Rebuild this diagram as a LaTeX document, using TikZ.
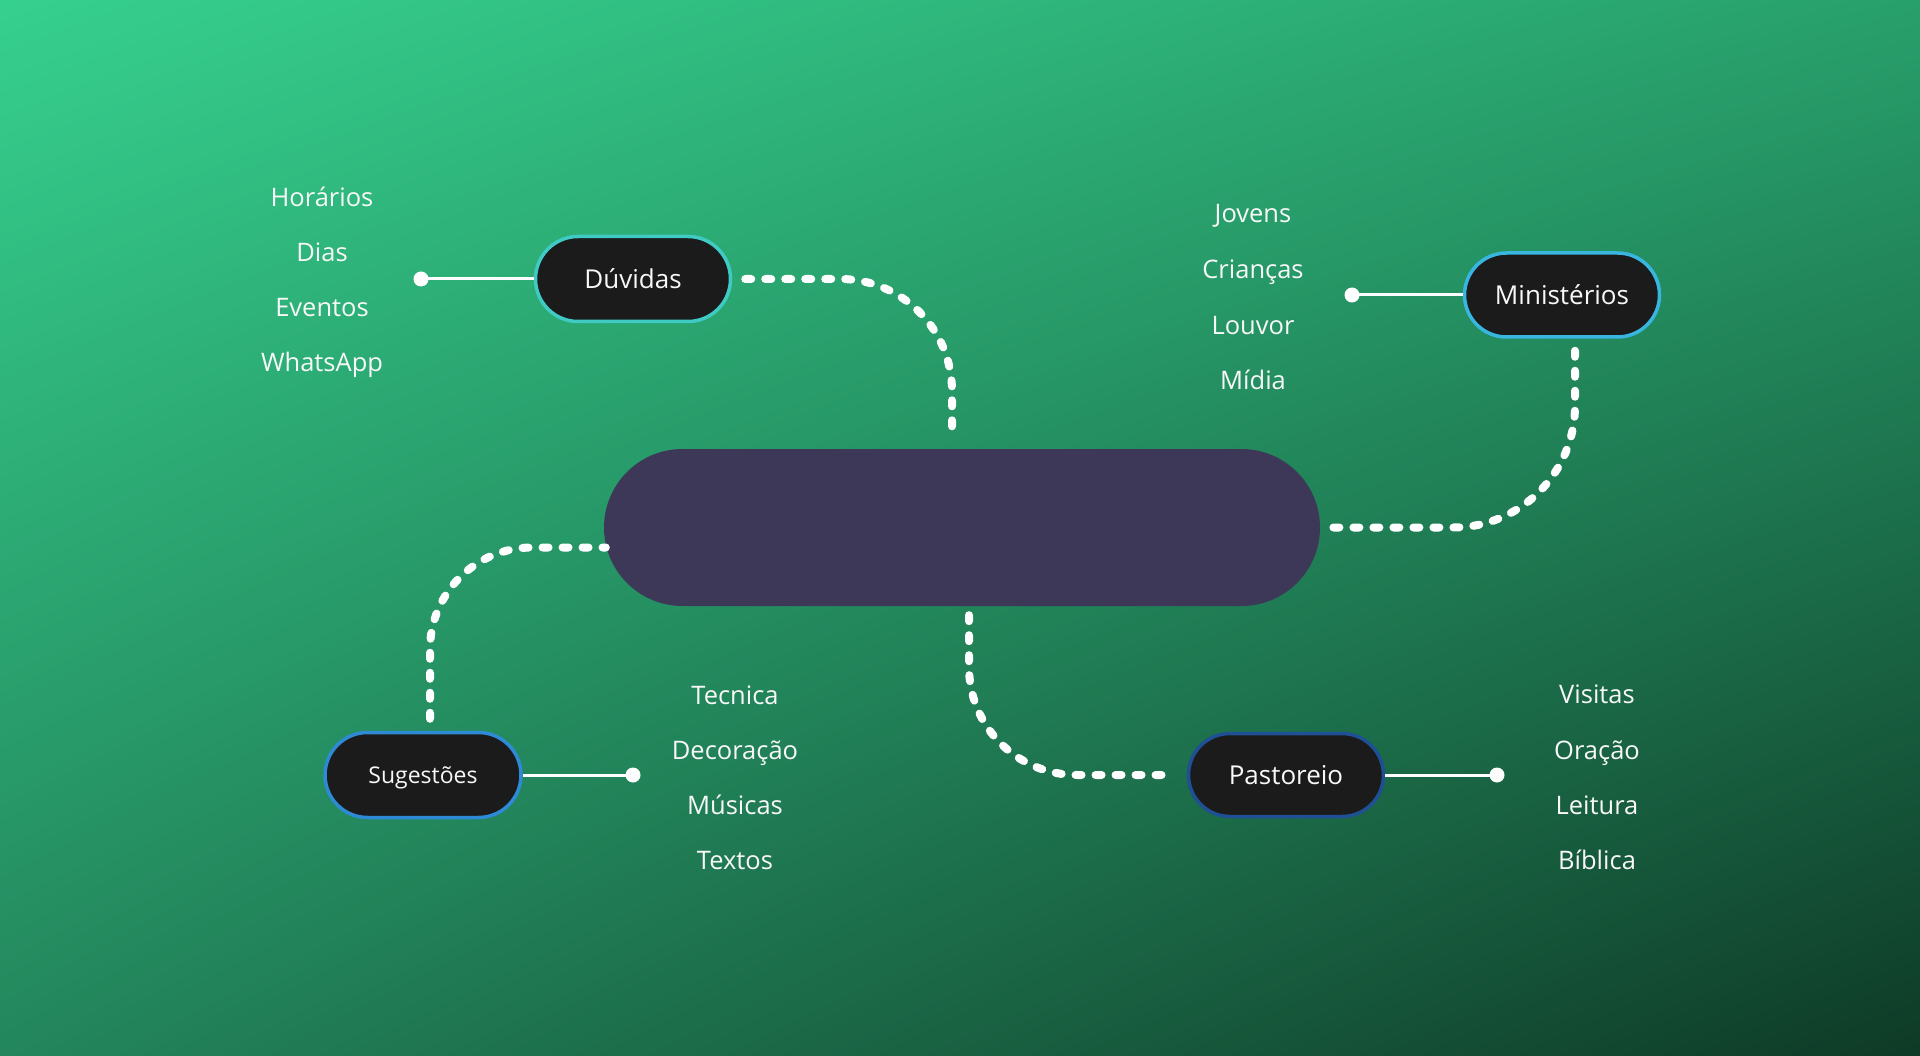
\documentclass[tikz,border=0pt]{standalone}
\usepackage{fontspec}
\setmainfont{Open Sans}
\usetikzlibrary{shapes.misc,calc,shadings}
\definecolor{bgTL}{HTML}{36D08E}
\definecolor{bgTR}{HTML}{28A06C}
\definecolor{bgBL}{HTML}{23865C}
\definecolor{bgBR}{HTML}{0E3A26}
\definecolor{pillfill}{HTML}{1B1B1B}
\definecolor{centerfill}{HTML}{3E3858}
\definecolor{bdTeal}{HTML}{3FCAC4}
\definecolor{bdSky}{HTML}{38B6E0}
\definecolor{bdBlue}{HTML}{2F8AD6}
\definecolor{bdNavy}{HTML}{1F4F94}
\definecolor{txtwhite}{HTML}{F8F8F8}
\tikzset{
  pill/.style={rounded rectangle, fill=pillfill, line width=3.5pt, minimum width=195pt, minimum height=85pt, inner sep=0pt, text height=18.6pt, text depth=0pt, text=txtwhite, font=\fontsize{26}{30}\selectfont},
  hubpill/.style={rounded rectangle, fill=centerfill, draw=none, minimum width=716pt, minimum height=157pt, inner sep=0pt},
  dotted link/.style={draw=white, line width=8pt, line cap=round, dash pattern=on 6pt off 14pt},
  solid link/.style={draw=white, line width=3pt},
  enddot/.style={circle, fill=white, minimum size=15pt, inner sep=0pt},
  itemlabel/.style={anchor=base, text=txtwhite, inner sep=0pt, font=\fontsize{25.5}{30}\selectfont}
}
\begin{document}
\begin{tikzpicture}[x=1pt, y=-1pt]
\useasboundingbox (0,0) rectangle (1920,1056);
\shade[upper left=bgTL, upper right=bgTR, lower left=bgBL, lower right=bgBR] (0,0) rectangle (1920,1056);

% hub
\node[hubpill] (hub) at (962,527.5) {};

% branch nodes
\node[pill, draw=bdTeal] (duv) at (633,279) {Dúvidas};
\node[pill, draw=bdSky, minimum height=84pt] (min) at (1562,295) {Ministérios};
\node[pill, draw=bdBlue, minimum width=196pt, text height=16.4pt, font=\fontsize{23}{27}\selectfont] (sug) at (423,775) {Sugestões};
\node[pill, draw=bdNavy, minimum height=83pt] (pas) at (1286,775) {Pastoreio};

% end dots
\node[enddot] (dduv) at (421,279) {};
\node[enddot] (dmin) at (1352,295) {};
\node[enddot] (dsug) at (633,775) {};
\node[enddot] (dpas) at (1497,775) {};

% solid links
\draw[solid link] (duv.west) -- (dduv.center);
\draw[solid link] (min.west) -- (dmin.center);
\draw[solid link] (sug.east) -- (dsug.center);
\draw[solid link] (pas.east) -- (dpas.center);

% dotted links to hub
\draw[dotted link, rounded corners=112pt] ([xshift=13pt]duv.east) -| ([xshift=-10pt,yshift=12pt]hub.north);
\draw[dotted link, rounded corners=122pt] ([xshift=13pt,yshift=-12pt]min.south) |- ([xshift=12pt]hub.east);
\draw[dotted link, rounded corners=102pt] ([xshift=7pt,yshift=12pt]sug.north) |- ([xshift=2pt,yshift=-20pt]hub.west);
\draw[dotted link, rounded corners=108pt] ([xshift=7pt,yshift=-9pt]hub.south) |- ([xshift=-12pt]pas.west);

% labels: Dúvidas
\node[itemlabel] (l1) at (322,207) {Horários};
\node[itemlabel] (l2) at (322,262) {Dias};
\node[itemlabel] (l3) at (322,317) {Eventos};
\node[itemlabel] (l4) at (322,372) {WhatsApp};
% labels: Ministérios
\node[itemlabel] (m1) at (1253,223) {Jovens};
\node[itemlabel] (m2) at (1253,279) {Crianças};
\node[itemlabel] (m3) at (1253,335) {Louvor};
\node[itemlabel] (m4) at (1253,390) {Mídia};
% labels: Sugestões
\node[itemlabel] (s1) at (735,704) {Tecnica};
\node[itemlabel] (s2) at (735,759) {Decoração};
\node[itemlabel] (s3) at (735,814) {Músicas};
\node[itemlabel] (s4) at (735,869) {Textos};
% labels: Pastoreio
\node[itemlabel] (p1) at (1597,703) {Visitas};
\node[itemlabel] (p2) at (1597,759) {Oração};
\node[itemlabel] (p3) at (1597,814) {Leitura};
\node[itemlabel] (p4) at (1597,869) {Bíblica};
\end{tikzpicture}
\end{document}
